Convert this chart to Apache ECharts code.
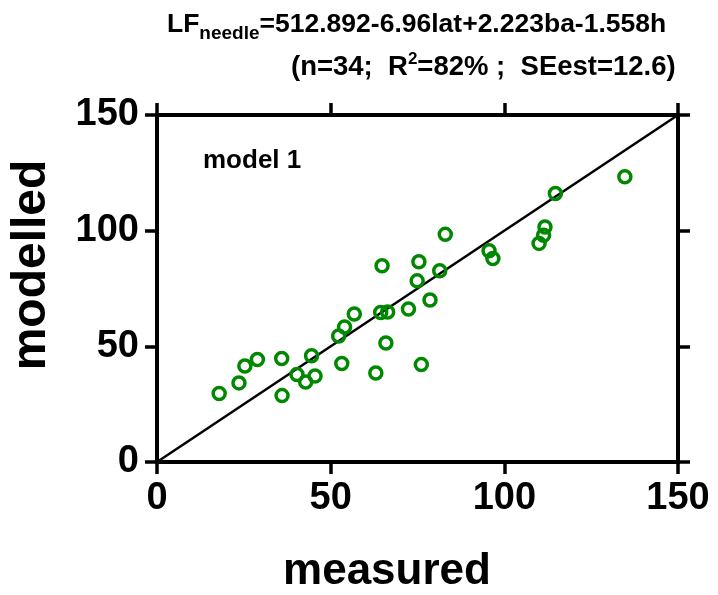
<!DOCTYPE html>
<html>
<head>
<meta charset="utf-8">
<script src="https://cdn.jsdelivr.net/npm/echarts@6/dist/echarts.min.js"></script>
<style>
  html, body { margin: 0; padding: 0; background: #fff; }
  #chart { width: 718px; height: 595px; }
</style>
</head>
<body>
<div id="chart"></div>
<script>
// measured vs modelled LF (needle)
var measured = [17.9, 23.6, 25.3, 28.9, 35.9, 36.0, 40.3, 42.8, 45.5, 44.5, 52.3, 54.0, 56.8, 53.2, 63.0, 64.8, 64.4,
    66.4, 65.9, 72.4, 76.1, 74.9, 75.4, 78.6, 81.4, 83.0, 95.6, 96.7, 110.0, 111.3, 111.7, 114.7, 134.7];
var modelled = [29.6, 34.2, 41.5, 44.3, 44.7, 28.7, 37.8, 34.6, 37.2, 45.9, 54.5, 58.4, 64.0, 42.6, 38.5, 84.8, 64.6,
    64.8, 51.4, 66.1, 42.1, 78.3, 86.6, 70.0, 82.7, 98.4, 91.3, 88.0, 94.5, 98.0, 101.6, 116.1, 123.3];
// 1:1 line
var oneToOne = [0, 150];
var axisMin = 0, axisMax = 150, axisStep = 50;

var font = "'Liberation Sans', Arial, sans-serif";
var myChart = echarts.init(document.getElementById('chart'));

var points = measured.map(function (m, i) { return [m, modelled[i]]; });
var lineData = oneToOne.map(function (v) { return [v, v]; });

function boxAxis(pos, showLabel) {
    return {
        type: 'value',
        position: pos,
        min: axisMin,
        max: axisMax,
        interval: axisStep,
        axisLine: { show: true, onZero: false, lineStyle: { color: '#000', width: 4 } },
        axisTick: { show: true, inside: false, length: 12, lineStyle: { color: '#000', width: 3.5 } },
        axisLabel: {
            show: showLabel,
            color: '#000',
            fontSize: 38,
            fontWeight: 'bold',
            fontFamily: font,
            margin: 18
        },
        splitLine: { show: false }
    };
}

var option = {
    backgroundColor: '#fff',
    animation: false,
    title: [
        {
            left: 162,
            top: 2,
            text: '{a|LF}{s|needle}{a|=512.892-6.96lat+2.223ba-1.558h}',
            textStyle: {
                rich: {
                    a: { fontSize: 26.5, fontWeight: 'bold', color: '#000', fontFamily: font, lineHeight: 36 },
                    s: { fontSize: 19, fontWeight: 'bold', color: '#000', fontFamily: font, lineHeight: 19, verticalAlign: 'bottom' }
                }
            }
        },
        {
            left: 286,
            top: 46,
            text: '{a|(n=34;  R}{p|2}{a|=82% ;  SEest=12.6)}',
            textStyle: {
                rich: {
                    a: { fontSize: 27.5, fontWeight: 'bold', color: '#000', fontFamily: font, lineHeight: 32 },
                    p: { fontSize: 17, fontWeight: 'bold', color: '#000', fontFamily: font, lineHeight: 17, verticalAlign: 'top' }
                }
            }
        }
    ],
    grid: { left: 157, top: 115, right: 40, bottom: 133, containLabel: false },
    xAxis: [boxAxis('bottom', true), boxAxis('top', false)],
    yAxis: [boxAxis('left', true), boxAxis('right', false)],
    graphic: [
        {
            type: 'text', left: 203, top: 148,
            style: { text: 'model 1', fill: '#000', fontSize: 26, fontWeight: 'bold', fontFamily: font }
        },
        {
            type: 'text', x: 387, y: 572,
            style: { text: 'measured', fill: '#000', fontSize: 44, fontWeight: 'bold', fontFamily: font,
                align: 'center', verticalAlign: 'middle' }
        },
        {
            type: 'text', x: 32, y: 265, rotation: Math.PI / 2,
            style: { text: 'modelled', fill: '#000', fontSize: 48, fontWeight: 'bold', fontFamily: font,
                align: 'center', verticalAlign: 'middle' }
        }
    ],
    series: [
        {
            type: 'line',
            data: lineData,
            showSymbol: false,
            lineStyle: { color: '#000', width: 2.5 },
            z: 1
        },
        {
            type: 'scatter',
            data: points,
            symbol: 'circle',
            symbolSize: 12,
            itemStyle: { color: 'rgba(0,0,0,0)', borderColor: '#008800', borderWidth: 3.5, opacity: 1 },
            z: 2
        }
    ]
};

myChart.setOption(option);
</script>
</body>
</html>
